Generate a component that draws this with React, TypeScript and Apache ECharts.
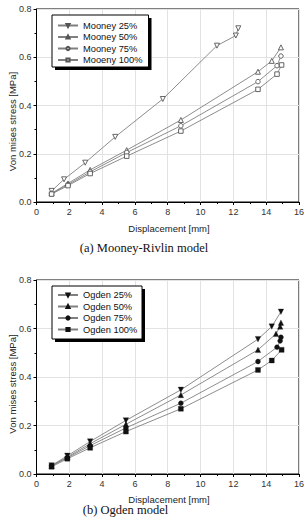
import React, { useEffect, useRef } from "react";
import * as echarts from "echarts";

const mooneyNames = ["Mooney 25%", "Mooney 50%", "Mooney 75%", "Mooeny 100%"];
const ogdenNames = ["Ogden 25%", "Ogden 50%", "Ogden 75%", "Ogden 100%"];

const mooney25X = [0.92, 1.68, 2.97, 4.8, 7.7, 11.0, 12.15, 12.3];
const mooney25Y = [0.046, 0.094, 0.163, 0.27, 0.427, 0.648, 0.69, 0.72];
const mooney50X = [0.92, 1.92, 3.27, 5.5, 8.8, 13.5, 14.34, 14.9];
const mooney50Y = [0.036, 0.077, 0.133, 0.215, 0.34, 0.54, 0.585, 0.641];
const mooney75X = [0.92, 1.92, 3.27, 5.5, 8.8, 13.5, 14.66, 14.9];
const mooney75Y = [0.035, 0.072, 0.125, 0.205, 0.316, 0.499, 0.565, 0.605];
const mooney100X = [0.92, 1.92, 3.27, 5.5, 8.8, 13.5, 14.66, 14.94];
const mooney100Y = [0.033, 0.068, 0.118, 0.19, 0.294, 0.467, 0.53, 0.568];

const ogden25X = [0.92, 1.88, 3.27, 5.45, 8.8, 13.5, 14.34, 14.9];
const ogden25Y = [0.035, 0.075, 0.134, 0.221, 0.347, 0.556, 0.608, 0.669];
const ogden50X = [0.92, 1.88, 3.27, 5.45, 8.8, 13.5, 14.6, 14.85, 14.9];
const ogden50Y = [0.033, 0.07, 0.125, 0.205, 0.326, 0.512, 0.578, 0.608, 0.624];
const ogden75X = [0.92, 1.88, 3.27, 5.45, 8.8, 13.5, 14.66, 14.85, 14.9];
const ogden75Y = [0.034, 0.067, 0.117, 0.19, 0.292, 0.464, 0.523, 0.549, 0.564];
const ogden100X = [0.92, 1.88, 3.27, 5.45, 8.8, 13.5, 14.34, 14.94];
const ogden100Y = [0.03, 0.063, 0.108, 0.175, 0.269, 0.429, 0.468, 0.512];

const xTitle = "Displacement [mm]";
const yTitle = "Von mises stress [MPa]";
const captionA = "(a) Mooney-Rivlin model";
const captionB = "(b) Ogden model";

const zip = (xs: number[], ys: number[]) => xs.map((x, i) => [x, ys[i]]);

const FONT = "Liberation Sans, Arial, sans-serif";
const SERIF = "Liberation Serif, Times New Roman, serif";

function makeAxes(idx: number) {
  const xAxis = {
    type: "value",
    gridIndex: idx,
    min: 0,
    max: 16,
    interval: 2,
    axisLine: { show: true, lineStyle: { color: "#000", width: 1 } },
    axisTick: { show: true, inside: false, length: 3, lineStyle: { color: "#000" } },
    minorTick: { show: true, splitNumber: 2, length: 2, lineStyle: { color: "#000" } },
    axisLabel: { fontFamily: FONT, fontSize: 9, color: "#333", margin: 5 },
    splitLine: { show: true, lineStyle: { color: "#e2e2e2", width: 1 } },
  };
  const yAxis = {
    type: "value",
    gridIndex: idx,
    min: 0,
    max: 0.8,
    interval: 0.2,
    axisLine: { show: true, lineStyle: { color: "#000", width: 1 } },
    axisTick: { show: true, inside: false, length: 3, lineStyle: { color: "#000" } },
    minorTick: { show: true, splitNumber: 2, length: 2, lineStyle: { color: "#000" } },
    axisLabel: {
      fontFamily: FONT,
      fontSize: 9,
      color: "#333",
      margin: 5,
      formatter: (v: number) => v.toFixed(1),
    },
    splitLine: { show: true, lineStyle: { color: "#e2e2e2", width: 1 } },
  };
  return { xAxis, yAxis };
}

function hollow(name: string, xs: number[], ys: number[], symbol: string, size: number, rotate = 0) {
  return {
    name,
    type: "line",
    xAxisIndex: 0,
    yAxisIndex: 0,
    data: zip(xs, ys),
    symbol,
    symbolRotate: rotate,
    symbolSize: size,
    showAllSymbol: true,
    lineStyle: { color: "#808080", width: 0.9 },
    itemStyle: { color: "#fff", borderColor: "#555", borderWidth: 0.9 },
    emphasis: { disabled: true },
  };
}

function filled(name: string, xs: number[], ys: number[], symbol: string, size: number, rotate = 0) {
  return {
    name,
    type: "line",
    xAxisIndex: 1,
    yAxisIndex: 1,
    data: zip(xs, ys),
    symbol,
    symbolRotate: rotate,
    symbolSize: size,
    showAllSymbol: true,
    lineStyle: { color: "#808080", width: 0.9 },
    itemStyle: { color: "#111", borderColor: "#111", borderWidth: 0.3 },
    emphasis: { disabled: true },
  };
}

export default function App() {
  const ref = useRef<HTMLDivElement>(null);
  useEffect(() => {
    if (!ref.current) return;
    const chart = echarts.init(ref.current, undefined, { renderer: "svg" });
    const a1 = makeAxes(0);
    const a2 = makeAxes(1);
    const legendCommon = {
      orient: "vertical",
      left: 57,
      itemWidth: 20,
      itemHeight: 4,
      itemGap: 1.5,
      textStyle: { fontFamily: FONT, fontSize: 9.3, color: "#111", lineHeight: 10 },
      padding: 0,
      z: 10,
      selectedMode: false,
    };
    const yTitleStyle = { text: yTitle, fontFamily: FONT, fontSize: 9.5, fill: "#222", align: "center", verticalAlign: "middle" };
    const xTitleStyle = { text: xTitle, fontFamily: FONT, fontSize: 9.5, fill: "#222", align: "center", verticalAlign: "middle" };
    chart.setOption({
      animation: false,
      backgroundColor: "#fff",
      grid: [
        { left: 36.5, top: 9, width: 265, height: 193, show: true, borderColor: "#000", borderWidth: 1, backgroundColor: "transparent" },
        { left: 36.5, top: 280, width: 265, height: 194, show: true, borderColor: "#000", borderWidth: 1, backgroundColor: "transparent" },
      ],
      xAxis: [a1.xAxis, a2.xAxis],
      yAxis: [a1.yAxis, a2.yAxis],
      legend: [
        { ...legendCommon, top: 20.5, data: mooneyNames },
        { ...legendCommon, top: 290, data: ogdenNames },
      ],
      graphic: [
        { type: "rect", z: 5, shape: { x: 55, y: 18, width: 96.5, height: 52 }, style: { fill: "#000" } },
        { type: "rect", z: 5, shape: { x: 52, y: 15, width: 96.5, height: 52 }, style: { fill: "#fff", stroke: "#000", lineWidth: 1 } },
        { type: "rect", z: 5, shape: { x: 55, y: 289, width: 90, height: 53 }, style: { fill: "#000" } },
        { type: "rect", z: 5, shape: { x: 52, y: 286, width: 90, height: 53 }, style: { fill: "#fff", stroke: "#000", lineWidth: 1 } },
        { type: "text", x: 12, y: 121.5, rotation: Math.PI / 2, style: yTitleStyle },
        { type: "text", x: 12, y: 384, rotation: Math.PI / 2, style: yTitleStyle },
        { type: "text", x: 169, y: 228, style: xTitleStyle },
        { type: "text", x: 169, y: 499, style: xTitleStyle },
        {
          type: "text",
          x: 144,
          y: 248,
          style: { text: captionA, fontFamily: SERIF, fontSize: 12.5, fill: "#111", align: "center", verticalAlign: "middle" },
        },
        {
          type: "text",
          x: 125.5,
          y: 510,
          style: { text: captionB, fontFamily: SERIF, fontSize: 12.5, fill: "#111", align: "center", verticalAlign: "middle" },
        },
      ],
      series: [
        hollow(mooneyNames[0], mooney25X, mooney25Y, "triangle", 5, 180),
        hollow(mooneyNames[1], mooney50X, mooney50Y, "triangle", 5),
        hollow(mooneyNames[2], mooney75X, mooney75Y, "circle", 4.5),
        hollow(mooneyNames[3], mooney100X, mooney100Y, "rect", 4.5),
        filled(ogdenNames[0], ogden25X, ogden25Y, "triangle", 5.5, 180),
        filled(ogdenNames[1], ogden50X, ogden50Y, "triangle", 5.5),
        filled(ogdenNames[2], ogden75X, ogden75Y, "circle", 5),
        filled(ogdenNames[3], ogden100X, ogden100Y, "rect", 5),
      ],
    });
    return () => chart.dispose();
  }, []);
  return (
    <div
      ref={ref}
      style={{ position: "absolute", left: 0, top: 0, width: 307, height: 525 }}
    />
  );
}
